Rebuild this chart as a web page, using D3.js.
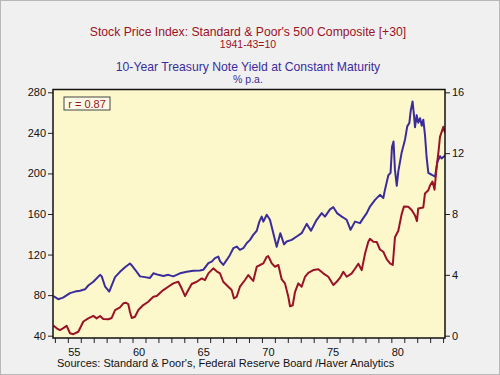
<!DOCTYPE html>
<html><head><meta charset="utf-8">
<script src="https://cdn.jsdelivr.net/npm/d3@7"></script>
<style>body{margin:0;background:#f0f0f0}svg{display:block}text{font-family:"Liberation Sans",Arial,sans-serif}</style>
</head><body>
<svg id="c" width="500" height="375"></svg>
<script>
// ---- data ----
const titleStock = "Stock Price Index: Standard & Poor's 500 Composite [+30]";
const subStock = "1941-43=10";
const titleYield = "10-Year Treasury Note Yield at Constant Maturity";
const subYield = "% p.a.";
const sourceText = "Sources:  Standard & Poor's, Federal Reserve Board /Haver Analytics";
const corrLabel = "r = 0.87";
const leftTicks = [40, 80, 120, 160, 200, 240, 280];
const rightTicks = [0, 4, 8, 12, 16];
const yearLabels = [1955, 1960, 1965, 1970, 1975, 1980];

const yieldDates = [1953.88,1954.26,1954.63,1955.17,1955.55,1955.94,1956.33,1956.58,1956.97,1957.49,1957.62,1957.87,1958.2,1958.65,1959.03,1959.42,1959.8,1959.96,1960.19,1960.58,1960.96,1961.35,1961.61,1961.99,1962.38,1962.76,1963.15,1963.67,1964.19,1964.7,1965.21,1965.47,1965.86,1966.12,1966.37,1966.63,1966.76,1967.01,1967.28,1967.53,1967.79,1968.05,1968.3,1968.56,1968.82,1969.08,1969.33,1969.6,1969.8,1969.98,1970.11,1970.37,1970.62,1970.88,1971.14,1971.42,1971.71,1971.91,1972.3,1972.69,1973.07,1973.46,1973.79,1974.23,1974.62,1974.87,1975.26,1975.52,1975.8,1976.17,1976.55,1976.85,1977.19,1977.58,1977.83,1978.1,1978.35,1978.74,1979.12,1979.38,1979.51,1979.77,1979.94,1980.05,1980.17,1980.28,1980.42,1980.54,1980.8,1981.06,1981.23,1981.39,1981.5,1981.64,1981.75,1981.83,1981.96,1982.08,1982.22,1982.35,1982.47,1982.6,1982.73,1982.86,1983.12,1983.38,1983.55,1983.76,1983.89,1984.15];
const yieldValues = [2.6,2.4,2.5,2.8,2.9,2.96,3.05,3.3,3.55,4.0,3.9,3.25,2.9,3.85,4.2,4.5,4.75,4.6,4.35,3.9,3.85,3.8,4.1,4.0,3.93,4.0,3.9,4.1,4.2,4.27,4.28,4.33,4.77,4.87,5.1,5.2,4.9,4.65,4.98,5.31,5.75,5.86,5.64,5.75,6.08,6.3,6.63,6.9,7.5,7.83,7.5,7.95,7.62,6.74,5.84,6.74,6.0,6.19,6.3,6.52,6.74,7.35,6.9,7.62,8.06,7.83,8.3,8.45,8.06,7.83,7.62,6.96,7.5,7.4,7.73,8.06,8.49,8.93,9.26,9.05,9.6,10.55,10.7,12.4,12.77,10.9,9.85,10.8,12.05,12.9,13.76,13.98,14.8,15.4,14.5,13.7,14.5,14.0,14.3,13.8,14.2,13.2,11.7,10.7,10.58,10.45,11.4,11.8,11.65,11.85];

const stockDates = [1953.88,1954.14,1954.39,1954.65,1954.91,1955.17,1955.42,1955.81,1956.2,1956.58,1956.97,1957.23,1957.49,1957.74,1958.13,1958.39,1958.65,1959.03,1959.29,1959.5,1959.67,1959.8,1959.94,1960.19,1960.45,1960.83,1961.22,1961.35,1961.61,1961.87,1962.12,1962.38,1962.76,1963.15,1963.54,1963.8,1964.06,1964.31,1964.57,1964.96,1965.35,1965.6,1965.86,1966.24,1966.5,1966.76,1967.01,1967.4,1967.66,1967.84,1968.05,1968.3,1968.69,1968.95,1969.19,1969.33,1969.6,1969.85,1970.11,1970.37,1970.49,1970.76,1971.01,1971.27,1971.53,1971.78,1972.04,1972.17,1972.38,1972.56,1972.81,1973.07,1973.33,1973.58,1973.97,1974.36,1974.74,1975.13,1975.52,1975.78,1976.03,1976.29,1976.55,1976.94,1977.19,1977.45,1977.71,1977.97,1978.22,1978.35,1978.61,1978.87,1979.12,1979.38,1979.64,1979.9,1980.11,1980.28,1980.54,1980.8,1980.98,1981.31,1981.57,1981.83,1981.98,1982.08,1982.47,1982.6,1982.86,1982.99,1983.18,1983.34,1983.49,1983.65,1983.76,1983.89,1984.02,1984.15];
const stockValues = [50,47.3,45.6,47.5,49.7,42.4,41.5,43.9,54,57.1,59.5,57.1,59.4,56.5,56.2,57.5,65.3,68,71.9,72.5,71.2,63.6,57.5,58.7,65.3,70.2,73.5,75.2,78.4,79.1,82,85,88.3,91.6,93.2,86.5,79.1,85,91,93.2,96.5,94.9,101.5,106.4,103.5,101.5,93.2,88.3,85,76.8,78.4,88.3,94.9,99.8,96,94,108,109.7,111.3,117.8,118.5,111.3,108,109.7,95.5,91.6,78.4,69,70,83.3,91.6,88.3,98.1,102,104.7,105.5,101.5,98.1,90,93.2,97,103,98.1,101.5,106,111,104.7,121,132.6,135.5,132.6,132.5,125,122.8,115.5,111.3,109.7,137,143.5,160,167.5,167.1,164,158.5,153,165.5,166.5,180.3,183.5,188,192,184,205,222,236,241,246,240];

// ---- drawing ----
const svg = d3.select("#c");
const W = 500, H = 375;
const P = {l: 53, r: 445, t: 89.5, b: 338};
const red = "#9b1226", blue = "#3b2c9c";

svg.append("rect").attr("x",0.5).attr("y",0.5).attr("width",W-1).attr("height",H-1)
  .attr("fill","#f0f0f0").attr("stroke","#b8b8b8");

const x = d3.scaleLinear().domain([1955.5, 1980.5]).range([74.3, 397.8]);
const yL = d3.scaleLinear().domain([40, 280]).range([335.7, 92.3]);
const yR = d3.scaleLinear().domain([0, 16]).range([335.7, 92.3]);

svg.append("rect").attr("x",P.l).attr("y",P.t).attr("width",P.r-P.l).attr("height",P.b-P.t)
  .attr("fill","#fcf8cb");

// titles
const t = svg.append("g").attr("text-anchor","middle");
t.append("text").attr("x",248).attr("y",36).attr("font-size",12.2).attr("fill",red).text(titleStock);
t.append("text").attr("x",248).attr("y",48).attr("font-size",10.5).attr("fill",red).text(subStock);
t.append("text").attr("x",248).attr("y",71).attr("font-size",12.2).attr("fill",blue).text(titleYield);
t.append("text").attr("x",248).attr("y",83).attr("font-size",10.5).attr("fill",blue).text(subYield);

// lines
const clip = svg.append("clipPath").attr("id","pc").append("rect")
  .attr("x",P.l).attr("y",P.t).attr("width",P.r-P.l).attr("height",P.b-P.t);
const lineY = d3.line().x(d=>x(d[0])).y(d=>yR(d[1])).curve(d3.curveLinear);
const lineS = d3.line().x(d=>x(d[0])).y(d=>yL(d[1])).curve(d3.curveLinear);
const g = svg.append("g").attr("clip-path","url(#pc)");
g.append("path").datum(d3.zip(yieldDates, yieldValues)).attr("d",lineY)
  .attr("fill","none").attr("stroke",blue).attr("stroke-width",2).attr("stroke-linejoin","round");
g.append("path").datum(d3.zip(stockDates, stockValues)).attr("d",lineS)
  .attr("fill","none").attr("stroke",red).attr("stroke-width",2).attr("stroke-linejoin","round");

// axes
const axL = d3.axisLeft(yL).tickValues(leftTicks).tickSize(5).tickPadding(2);
const axR = d3.axisRight(yR).tickValues(rightTicks).tickSize(5).tickPadding(2);
const gL = svg.append("g").attr("transform",`translate(${P.l},0)`).call(axL);
const gR = svg.append("g").attr("transform",`translate(${P.r},0)`).call(axR);
[gL,gR].forEach(a=>{
  a.select(".domain").remove();
  a.selectAll("text").attr("font-size",11).attr("fill","#111").attr("font-family","Liberation Sans, Arial, sans-serif");
  a.selectAll("line").attr("stroke","#222");
});
const yearTicks = d3.range(1954, 1985);
const axB = d3.axisBottom(x).tickValues(yearTicks).tickSize(5).tickFormat("");
const gB = svg.append("g").attr("transform",`translate(0,${P.b})`).call(axB);
gB.select(".domain").remove();
gB.selectAll("line").attr("stroke","#222");
gB.selectAll("g.tick").filter(d=>x(d)<P.l-0.5||x(d)>P.r+0.5).remove();
svg.append("g").selectAll("text").data(yearLabels).join("text")
  .attr("x",d=>x(d+0.5)).attr("y",356).attr("text-anchor","middle")
  .attr("font-size",11).attr("fill","#111").text(d=>String(d).slice(2));

// frame
svg.append("rect").attr("x",P.l).attr("y",P.t).attr("width",P.r-P.l).attr("height",P.b-P.t)
  .attr("fill","none").attr("stroke","#111").attr("stroke-width",1.5);

// r box
svg.append("rect").attr("x",64).attr("y",97).attr("width",46).attr("height",13)
  .attr("fill","#fdfbe6").attr("stroke","#444").attr("stroke-width",1);
svg.append("text").attr("x",87).attr("y",107.5).attr("text-anchor","middle")
  .attr("font-size",11).attr("fill",red).text(corrLabel);

svg.append("text").attr("x",57).attr("y",367).attr("font-size",11).attr("fill","#111").text(sourceText);
</script>
</body></html>
